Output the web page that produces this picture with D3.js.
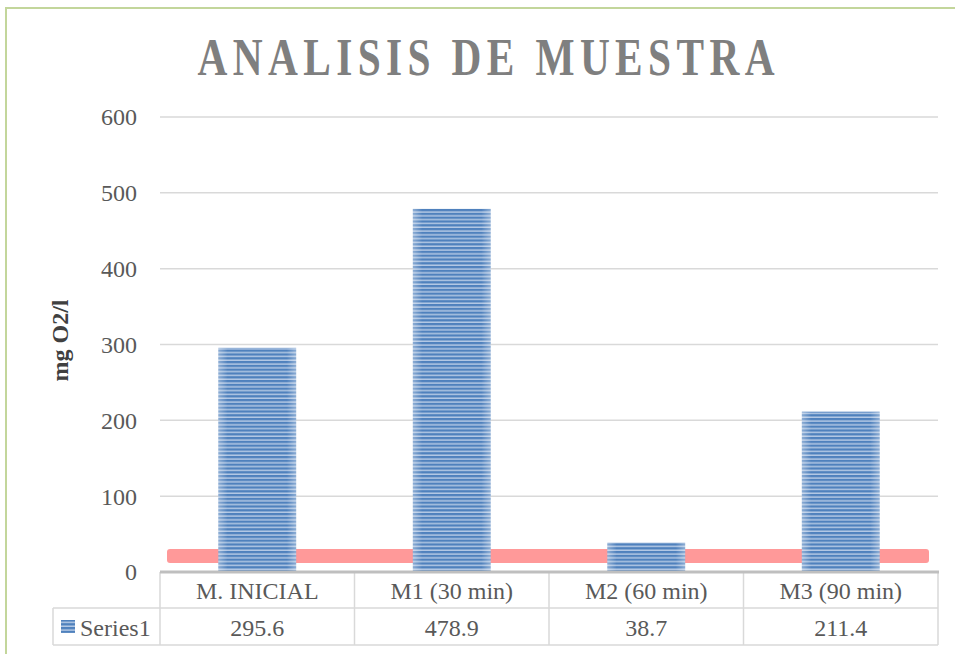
<!DOCTYPE html>
<html>
<head>
<meta charset="utf-8">
<script src="https://cdn.jsdelivr.net/npm/d3@7"></script>
<style>
  html, body { margin: 0; padding: 0; background: #fff; }
  svg { display: block; }
</style>
</head>
<body>
<div id="chart"></div>
<script>
// data
const categories = ["M. INICIAL", "M1 (30 min)", "M2 (60 min)", "M3 (90 min)"];
const values = [295.6, 478.9, 38.7, 211.4];
const valueLabels = ["295.6", "478.9", "38.7", "211.4"];
const yTicks = [0, 100, 200, 300, 400, 500, 600];
const seriesName = "Series1";
const limitValue = 21; // pink reference band

const width = 955, height = 654;
const margin = { top: 117, left: 160, right: 17, bottom: 82 };
const serif = "'Liberation Serif', 'DejaVu Serif', serif";
const textColor = "#595959";

const svg = d3.select("#chart").append("svg")
  .attr("width", width)
  .attr("height", height);

// pattern for the bars: thin horizontal stripes
const defs = svg.append("defs");
const pat = defs.append("pattern")
  .attr("id", "stripes")
  .attr("patternUnits", "userSpaceOnUse")
  .attr("width", 8)
  .attr("height", 3.8);
pat.append("rect").attr("width", 8).attr("height", 3.8).attr("fill", "#b3c8e4");
pat.append("rect").attr("width", 8).attr("height", 2.3).attr("fill", "#4f81bd");

const edge = defs.append("linearGradient").attr("id", "edge");
edge.append("stop").attr("offset", "0%").attr("stop-color", "#fff").attr("stop-opacity", 0.35);
edge.append("stop").attr("offset", "12%").attr("stop-color", "#fff").attr("stop-opacity", 0);
edge.append("stop").attr("offset", "88%").attr("stop-color", "#fff").attr("stop-opacity", 0);
edge.append("stop").attr("offset", "100%").attr("stop-color", "#fff").attr("stop-opacity", 0.35);

// outer border
svg.append("rect")
  .attr("x", 6).attr("y", 8)
  .attr("width", width + 20).attr("height", height + 20)
  .attr("fill", "none")
  .attr("stroke", "#c3d69b")
  .attr("stroke-width", 2);

// title: condensed glyphs with extra letter spacing
svg.append("g")
  .attr("transform", "translate(486,75) scale(0.78,1)")
  .append("text")
  .attr("x", 0).attr("y", 0)
  .attr("text-anchor", "middle")
  .attr("font-family", serif)
  .attr("font-weight", "bold")
  .attr("font-size", 53)
  .attr("fill", "#7f7f7f")
  .attr("textLength", 577 / 0.78)
  .attr("lengthAdjust", "spacing")
  .text("ANALISIS DE MUESTRA");

const x = d3.scaleBand()
  .domain(categories)
  .range([margin.left, width - margin.right])
  .paddingInner(0.6)
  .paddingOuter(0.3);

const y = d3.scaleLinear()
  .domain([0, 600])
  .range([572, margin.top]);

// gridlines
svg.append("g")
  .selectAll("line")
  .data(yTicks.filter(d => d > 0))
  .join("line")
  .attr("x1", margin.left).attr("x2", width - margin.right)
  .attr("y1", d => y(d)).attr("y2", d => y(d))
  .attr("stroke", "#d9d9d9")
  .attr("stroke-width", 1.5);

// y tick labels
svg.append("g")
  .selectAll("text")
  .data(yTicks)
  .join("text")
  .attr("x", 137)
  .attr("y", d => y(d))
  .attr("dy", "0.35em")
  .attr("text-anchor", "end")
  .attr("font-family", serif)
  .attr("font-size", 24)
  .attr("fill", textColor)
  .text(d => d);

// y axis title
svg.append("text")
  .attr("transform", `translate(68, ${y(300) - 4}) rotate(-90)`)
  .attr("text-anchor", "middle")
  .attr("font-family", serif)
  .attr("font-weight", "bold")
  .attr("font-size", 24)
  .attr("fill", "#404040")
  .text("mg O2/l");

// pink reference band (behind the bars)
svg.append("rect")
  .attr("x", margin.left + 7).attr("width", 762)
  .attr("y", y(limitValue) - 7).attr("height", 14)
  .attr("rx", 3)
  .attr("fill", "#ff9999");

// bars
const bars = svg.append("g")
  .selectAll("g")
  .data(values)
  .join("g");
bars.append("rect")
  .attr("x", (d, i) => x(categories[i]))
  .attr("y", d => y(d))
  .attr("width", x.bandwidth())
  .attr("height", d => y(0) - y(d))
  .attr("fill", "url(#stripes)");
bars.append("rect")
  .attr("x", (d, i) => x(categories[i]))
  .attr("y", d => y(d))
  .attr("width", x.bandwidth())
  .attr("height", d => y(0) - y(d))
  .attr("fill", "url(#edge)");

// data table
const step = (width - margin.right - margin.left) / categories.length;
const rowTop = y(0), row1 = rowTop + 36, row2 = row1 + 37;
const table = svg.append("g")
  .attr("stroke", "#d9d9d9")
  .attr("stroke-width", 1.5);
// column separators
table.selectAll("line.col")
  .data(d3.range(categories.length + 1))
  .join("line")
  .attr("class", "col")
  .attr("x1", i => margin.left + i * step).attr("x2", i => margin.left + i * step)
  .attr("y1", rowTop).attr("y2", row2);
table.append("line")
  .attr("x1", 53).attr("x2", width - margin.right)
  .attr("y1", row1).attr("y2", row1);
table.append("line")
  .attr("x1", 53).attr("x2", width - margin.right)
  .attr("y1", row2).attr("y2", row2);
table.append("line")
  .attr("x1", 53).attr("x2", 53)
  .attr("y1", row1).attr("y2", row2);

// axis line
svg.append("line")
  .attr("x1", margin.left).attr("x2", width - margin.right + 1)
  .attr("y1", rowTop).attr("y2", rowTop)
  .attr("stroke", "#bfbfbf")
  .attr("stroke-width", 3);

// category labels
svg.append("g")
  .selectAll("text")
  .data(categories)
  .join("text")
  .attr("x", (d, i) => margin.left + (i + 0.5) * step)
  .attr("y", rowTop + 27)
  .attr("text-anchor", "middle")
  .attr("font-family", serif)
  .attr("font-size", 24)
  .attr("fill", textColor)
  .text(d => d);

// value labels
svg.append("g")
  .selectAll("text")
  .data(valueLabels)
  .join("text")
  .attr("x", (d, i) => margin.left + (i + 0.5) * step)
  .attr("y", row1 + 28)
  .attr("text-anchor", "middle")
  .attr("font-family", serif)
  .attr("font-size", 24)
  .attr("fill", textColor)
  .text(d => d);

// legend key in table
svg.append("rect")
  .attr("x", 61).attr("y", row1 + 12)
  .attr("width", 14).attr("height", 13)
  .attr("fill", "url(#stripes)");
svg.append("text")
  .attr("x", 80).attr("y", row1 + 28)
  .attr("font-family", serif)
  .attr("font-size", 24)
  .attr("fill", textColor)
  .text(seriesName);
</script>
</body>
</html>
